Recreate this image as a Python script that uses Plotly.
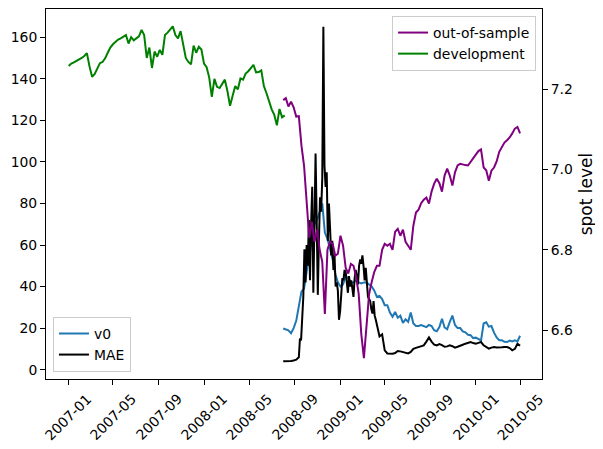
import pandas as pd
import plotly.graph_objects as go

FONT = 'DejaVu Sans'
FONT_SIZE = 13.9

V0_COLOUR = '#1f77b4'
MAE_COLOUR = 'black'
OOS_COLOUR = 'purple'
DEV_COLOUR = 'green'

# the page body adds an 8px margin, so the figure is made 8px smaller
PAGE_MARGIN = 8

# spot level (right axis), weekly readings
dev_spot = [
    7.258, 7.264, 7.267, 7.270, 7.273, 7.278, 7.283, 7.290, 7.257, 7.231,
    7.238, 7.250, 7.265, 7.268, 7.277, 7.291, 7.304, 7.312, 7.319, 7.324,
    7.327, 7.332, 7.335, 7.314, 7.330, 7.322, 7.326, 7.332, 7.348, 7.335,
    7.278, 7.304, 7.253, 7.294, 7.281, 7.298, 7.286, 7.335, 7.341, 7.350,
    7.357, 7.335, 7.327, 7.345, 7.314, 7.278, 7.268, 7.262, 7.309, 7.291,
    7.306, 7.299, 7.264, 7.255, 7.229, 7.181, 7.226, 7.206, 7.203, 7.214,
    7.224, 7.195, 7.159, 7.184, 7.208, 7.200, 7.227, 7.224, 7.239, 7.245,
    7.252, 7.261, 7.242, 7.243, 7.247, 7.208, 7.190, 7.167, 7.150, 7.136,
    7.110, 7.151, 7.130, 7.135,
]

oos_spot = [
    7.173, 7.178, 7.157, 7.169, 7.155, 7.132, 7.133, 7.060, 7.010, 6.930,
    6.830, 6.870, 6.820, 6.850, 6.800, 6.770, 6.640, 6.800, 6.820, 6.815,
    6.785, 6.790, 6.835, 6.810, 6.755, 6.741, 6.765, 6.760, 6.733, 6.690,
    6.590, 6.530, 6.610, 6.690, 6.720, 6.745, 6.760, 6.760, 6.800, 6.815,
    6.810, 6.815, 6.800, 6.845, 6.852, 6.835, 6.850, 6.820, 6.810, 6.800,
    6.860, 6.893, 6.900, 6.916, 6.925, 6.930, 6.915, 6.945, 6.965, 6.977,
    6.966, 6.945, 6.985, 7.002, 6.985, 6.960, 6.993, 7.010, 7.014, 7.012,
    7.011, 7.010, 7.020, 7.029, 7.037, 7.046, 7.050, 7.005, 6.998, 6.972,
    6.997, 7.005, 7.020, 7.044, 7.057, 7.067, 7.073, 7.080, 7.090, 7.102,
    7.106, 7.090,
]

# left axis, weekly readings over the out-of-sample period
v0 = [
    19.8, 19.2, 18.9, 17.5, 20.0, 23.5, 30.0, 37.5, 39.0, 46.0,
    55.0, 63.0, 70.0, 72.0, 76.0, 80.0, 66.0, 63.0, 58.0, 53.0,
    46.0, 42.0, 40.0, 41.0, 45.0, 44.0, 42.0, 42.0, 43.0, 42.0,
    41.5, 42.0, 42.0, 41.0, 40.0, 38.0, 35.0, 35.5, 34.0, 31.0,
    31.0, 27.5, 25.5, 27.8, 25.0, 26.0, 22.5, 24.2, 23.0, 27.5,
    22.2, 21.0, 21.0, 21.5, 21.0, 20.5, 21.5, 21.0, 19.0, 18.5,
    20.5, 24.5, 20.3, 19.5, 23.0, 26.0, 21.5, 20.0, 20.0, 18.4,
    18.0, 16.8, 16.6, 15.2, 15.4, 14.6, 14.1, 22.2, 22.8, 20.7,
    21.0, 17.8, 15.5, 14.1, 14.1, 13.4, 13.3, 14.0, 13.6, 14.1,
    13.6, 16.3,
]

# MAE: weekly before and after the crisis, every 3 days during it
mae_before = [4.0, 4.0, 4.1, 4.2, 4.4, 4.8]
mae_crisis = [
    6, 15, 14, 25, 35, 58, 42, 60, 50, 72,
    43, 70, 88, 37, 82, 104, 72, 36, 62, 83,
    76, 92, 165, 98, 88, 95, 62, 80, 68, 55,
    62, 48, 55, 40, 42, 38, 24, 28, 36, 44,
    43, 48, 47, 40, 37, 45, 40, 43, 38, 35,
    44, 48, 45, 41, 50, 53, 51, 55, 50, 43,
    49, 40, 35, 34, 33, 29, 27, 33, 26, 24,
    21, 19,
]
mae_after = [
    16, 17, 9.3, 7.8, 7.6, 7.7, 8, 9, 8.8, 8.5,
    8, 7.8, 8.5, 10, 10.5, 10.9, 11.2, 11.7, 13.5, 15.5,
    13.5, 12, 11.7, 12.3, 11.8, 11, 11.2, 11.7, 11.3, 10.6,
    11, 11.7, 12, 12.5, 13, 13.3, 12.8, 12.5, 12.9, 13.3,
    11.7, 10.9, 10.1, 10.6, 10.9, 10.7, 10.6, 10.8, 10.9, 10.9,
    10.4, 9.3, 10, 12.5, 11.5,
]

tick_dates = ['2007-01-01', '2007-05-01', '2007-09-01', '2008-01-01',
              '2008-05-01', '2008-09-01', '2009-01-01', '2009-05-01',
              '2009-09-01', '2010-01-01', '2010-05-01']
tick_labels = [d[:7] for d in tick_dates]

dev_dates = pd.date_range('2007-01-02', periods=len(dev_spot), freq='7D')
oos_dates = pd.date_range('2008-08-01', periods=len(oos_spot), freq='7D')
mae_dates = (pd.date_range('2008-08-01', periods=len(mae_before), freq='7D')
             .append(pd.date_range('2008-09-12', periods=len(mae_crisis), freq='3D'))
             .append(pd.date_range('2009-04-17', periods=len(mae_after), freq='7D')))
mae = mae_before + mae_crisis + mae_after

fig = go.Figure()
fig.add_trace(go.Scatter(x=oos_dates, y=v0, mode='lines', name='v0',
                         line=dict(color=V0_COLOUR, width=2), legend='legend2'))
fig.add_trace(go.Scatter(x=mae_dates, y=mae, mode='lines', name='MAE',
                         line=dict(color=MAE_COLOUR, width=2), legend='legend2'))
fig.add_trace(go.Scatter(x=oos_dates, y=oos_spot, mode='lines', name='out-of-sample',
                         yaxis='y2', line=dict(color=OOS_COLOUR, width=2)))
fig.add_trace(go.Scatter(x=dev_dates, y=dev_spot, mode='lines', name='development',
                         yaxis='y2', line=dict(color=DEV_COLOUR, width=2)))

axis_style = dict(showgrid=False, zeroline=False, showline=True, linecolor='black',
                  linewidth=1, ticks='outside', ticklen=5, tickwidth=1,
                  tickcolor='black', automargin=False)

legend_style = dict(bgcolor='rgba(255,255,255,0.8)', bordercolor='#cccccc',
                    borderwidth=1, font=dict(family=FONT, size=FONT_SIZE, color='black'))

fig.update_layout(
    width=603 - PAGE_MARGIN, height=449 - PAGE_MARGIN,
    margin=dict(l=46 - PAGE_MARGIN, r=61, t=9 - PAGE_MARGIN, b=70, autoexpand=False),
    plot_bgcolor='white', paper_bgcolor='white',
    font=dict(family=FONT, size=FONT_SIZE, color='black'),
    xaxis=dict(type='date', range=['2006-11-02', '2010-06-28'], tickvals=tick_dates,
               showticklabels=False, mirror=True, **axis_style),
    yaxis=dict(range=[-4.5, 173.6], tickvals=list(range(0, 161, 20)), **axis_style),
    yaxis2=dict(overlaying='y', side='right', range=[6.478, 7.400],
                tickvals=[6.6, 6.8, 7.0, 7.2], tickformat='.1f',
                title=dict(text='spot level', standoff=8), **axis_style),
    legend=dict(x=0.988, y=0.981, xanchor='right', yanchor='top', **legend_style),
    legend2=dict(x=0.014, y=0.019, xanchor='left', yanchor='bottom', **legend_style),
)

for d, lab in zip(tick_dates, tick_labels):
    fig.add_annotation(x=d, y=0, xref='x', yref='paper', text=lab, textangle=-45,
                       showarrow=False, xanchor='center', yanchor='middle', yshift=-38,
                       font=dict(family=FONT, size=FONT_SIZE, color='black'))

fig.write_html('out.html')
